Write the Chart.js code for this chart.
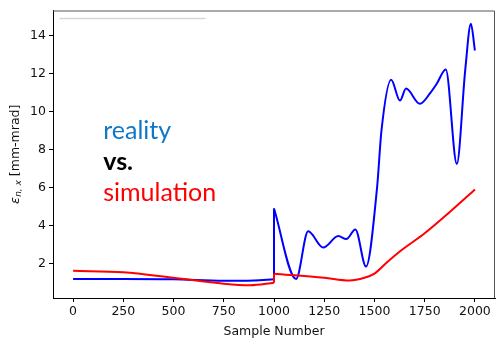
<!DOCTYPE html>
<html>
<head>
<meta charset="utf-8">
<script src="https://cdn.jsdelivr.net/npm/chart.js@4"></script>
<style>
  html, body { margin: 0; padding: 0; background: #fff; }
  #wrap { width: 496px; height: 339px; }
</style>
</head>
<body>
<div id="wrap"><canvas id="chart" width="496" height="339"></canvas></div>
<script>
// measured emittance, before and after the jump at sample 1000
const realLowX = [0, 250, 500, 750, 900, 1000];
const realLowY = [1.2, 1.2, 1.18, 1.1, 1.12, 1.18];
const realHighX = [1000, 1110, 1170, 1245, 1320, 1360, 1405, 1458, 1513, 1535, 1583, 1627, 1657, 1726, 1780, 1810, 1855, 1910, 1952, 1980, 2000];
const realHighY = [4.9, 1.2, 3.7, 2.85, 3.45, 3.3, 3.8, 1.85, 6.0, 9.0, 11.66, 10.57, 11.2, 10.4, 11.0, 11.45, 12.2, 7.25, 12.2, 14.6, 13.2];

// simulated emittance
const simLowX = [0, 250, 500, 750, 880, 1000];
const simLowY = [1.63, 1.55, 1.26, 0.95, 0.87, 1.0];
const simHighX = [1000, 1250, 1375, 1450, 1500, 1560, 1637, 1750, 1875, 2000];
const simHighY = [1.47, 1.26, 1.12, 1.26, 1.48, 2.05, 2.73, 3.6, 4.72, 5.9];

const xTicks = [0, 250, 500, 750, 1000, 1250, 1500, 1750, 2000];
const yTicks = [2, 4, 6, 8, 10, 12, 14];

function pts(xs, ys) {
    return xs.map((x, i) => ({ x: x, y: ys[i] }));
}

// vertical step joining the two halves of a series
function jump(lowX, lowY, highX, highY) {
    return [
        { x: lowX[lowX.length - 1], y: lowY[lowY.length - 1] },
        { x: highX[0], y: highY[0] }
    ];
}

function line(data, color, smooth) {
    return {
        data: data,
        borderColor: color,
        borderWidth: 2,
        pointRadius: 0,
        fill: false,
        tension: 0,
        cubicInterpolationMode: smooth ? 'monotone' : 'default'
    };
}

const tickFont = { family: 'DejaVu Sans', size: 12.5 };

// text labels, y label with subscript, frame edges, faint box edge at the top
const decorations = {
    id: 'decorations',
    afterDatasetsDraw(chart) {
        const ctx = chart.ctx;
        const a = chart.chartArea;
        const xs = chart.scales.x;
        const ys = chart.scales.y;
        ctx.save();

        ctx.strokeStyle = '#d6d6d6';
        ctx.lineWidth = 1.5;
        ctx.lineCap = 'round';
        ctx.beginPath();
        ctx.moveTo(a.left + 7, a.top + 8);
        ctx.lineTo(a.left + 152, a.top + 8);
        ctx.stroke();

        ctx.strokeStyle = '#555';
        ctx.lineWidth = 1;
        ctx.lineCap = 'butt';
        ctx.beginPath();
        ctx.moveTo(a.left, a.top + 0.5);
        ctx.lineTo(a.right - 0.5, a.top + 0.5);
        ctx.lineTo(a.right - 0.5, a.bottom);
        ctx.stroke();

        // y axis label: epsilon with subscript n,x
        const parts = [
            { t: 'ε', f: 'italic 13px "DejaVu Sans"', dy: 0 },
            { t: 'n, x', f: 'italic 9px "DejaVu Sans"', dy: 3 },
            { t: ' [mm-mrad]', f: '12.5px "DejaVu Sans"', dy: 0 }
        ];
        let total = 0;
        parts.forEach(p => { ctx.font = p.f; p.w = ctx.measureText(p.t).width; total += p.w; });
        ctx.save();
        ctx.translate(16, (a.top + a.bottom) / 2);
        ctx.rotate(-Math.PI / 2);
        ctx.fillStyle = '#111';
        ctx.textBaseline = 'middle';
        ctx.textAlign = 'left';
        let px = -total / 2;
        parts.forEach(p => {
            ctx.font = p.f;
            ctx.fillText(p.t, px, p.dy);
            px += p.w;
        });
        ctx.restore();

        const tx = xs.getPixelForValue(150);
        ctx.textBaseline = 'middle';
        ctx.textAlign = 'left';
        ctx.font = '25px Lato';
        ctx.fillStyle = '#0f78c6';
        ctx.fillText('reality', tx, ys.getPixelForValue(8.95));
        ctx.font = 'bold 25px Lato';
        ctx.fillStyle = '#000';
        ctx.fillText('vs.', tx, ys.getPixelForValue(7.35));
        ctx.font = '25px Lato';
        ctx.fillStyle = '#ff0000';
        ctx.fillText('simulation', tx, ys.getPixelForValue(5.7));
        ctx.restore();
    }
};

new Chart(document.getElementById('chart'), {
    type: 'line',
    data: {
        datasets: [
            line(pts(simLowX, simLowY), '#ff0000', true),
            line(jump(simLowX, simLowY, simHighX, simHighY), '#ff0000', false),
            line(pts(simHighX, simHighY), '#ff0000', true),
            line(pts(realLowX, realLowY), '#0000ff', true),
            line(jump(realLowX, realLowY, realHighX, realHighY), '#0000ff', false),
            line(pts(realHighX, realHighY), '#0000ff', true)
        ]
    },
    options: {
        responsive: false,
        animation: false,
        layout: { padding: { top: 7, right: 1, left: 0, bottom: 0 } },
        plugins: { legend: { display: false }, tooltip: { enabled: false } },
        scales: {
            x: {
                type: 'linear',
                min: -100,
                max: 2100,
                afterBuildTicks: s => { s.ticks = xTicks.map(v => ({ value: v })); },
                afterFit: s => { s.height = 41; },
                border: { color: '#000', width: 1 },
                grid: { drawOnChartArea: false, drawTicks: true, tickLength: 4, color: '#000' },
                ticks: { font: tickFont, color: '#111', padding: 2, maxRotation: 0, callback: v => String(v) },
                title: { display: true, text: 'Sample Number', font: tickFont, color: '#111', padding: { top: 0, bottom: 0 } }
            },
            y: {
                type: 'linear',
                min: 0.2,
                max: 15.3,
                afterBuildTicks: s => { s.ticks = yTicks.map(v => ({ value: v })); },
                afterFit: s => { s.width = 53; },
                border: { color: '#000', width: 1 },
                grid: { drawOnChartArea: false, drawTicks: true, tickLength: 4, color: '#000' },
                ticks: { font: tickFont, color: '#111', padding: 3, callback: v => String(v) },
                title: { display: false }
            }
        }
    },
    plugins: [decorations]
});
</script>
</body>
</html>
